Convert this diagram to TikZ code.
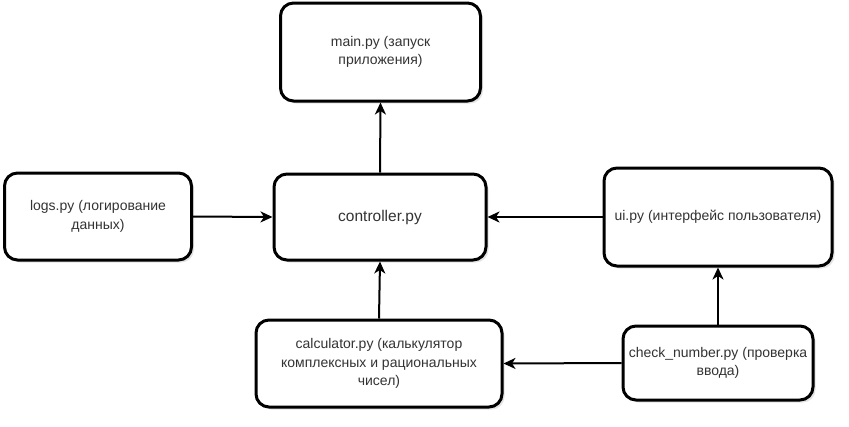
\documentclass[tikz,border=0pt]{standalone}
\usepackage{fontspec}
\setmainfont{Liberation Sans}
\usetikzlibrary{arrows.meta,shadows}

\begin{document}
\begin{tikzpicture}[x=1pt,y=-1pt,
  every node/.style={align=center,text=black!80,font=\fontsize{14}{18.5}\selectfont},
  module/.style={draw=black,line width=3pt,fill=white,rounded corners=13pt,inner sep=0pt,
    drop shadow={opacity=0.22,shadow xshift=2.5pt,shadow yshift=-2.5pt}},
  link/.style={draw=black,line width=2pt,-{Stealth[length=12pt,width=11pt,inset=3.5pt]}}]
\useasboundingbox (0,0) rectangle (849,426);
% modules
\node[module,minimum width=200pt,minimum height=98pt] (main) at (380.5,52) {main.py (запуск\\приложения)};
\node[module,minimum width=187pt,minimum height=87pt] (logs) at (98,216.5) {logs.py (логирование\\данных)};
\node[module,minimum width=212pt,minimum height=86pt,font=\fontsize{15.5}{19}\selectfont] (ctrl) at (380,217) {controller.py};
\node[module,minimum width=228pt,minimum height=98pt] (ui) at (718,217) {ui.py (интерфейс пользователя)};
\node[module,minimum width=246pt,minimum height=87pt] (calc) at (379,363.5) {calculator.py (калькулятор\\комплексных и рациональных\\чисел)};
\node[module,minimum width=190pt,minimum height=74pt] (check) at (718,363) {check\_number.py (проверка\\ввода)};
% links
\draw[link] (ctrl.north) -- (main.south);
\draw[link] (logs.east) -- (ctrl.west);
\draw[link] (ui.west) -- (ctrl.east);
\draw[link] (calc.north) -- (ctrl.south);
\draw[link] (check.west) -- (calc.east);
\draw[link] (check.north) -- (ui.south);
\end{tikzpicture}
\end{document}
